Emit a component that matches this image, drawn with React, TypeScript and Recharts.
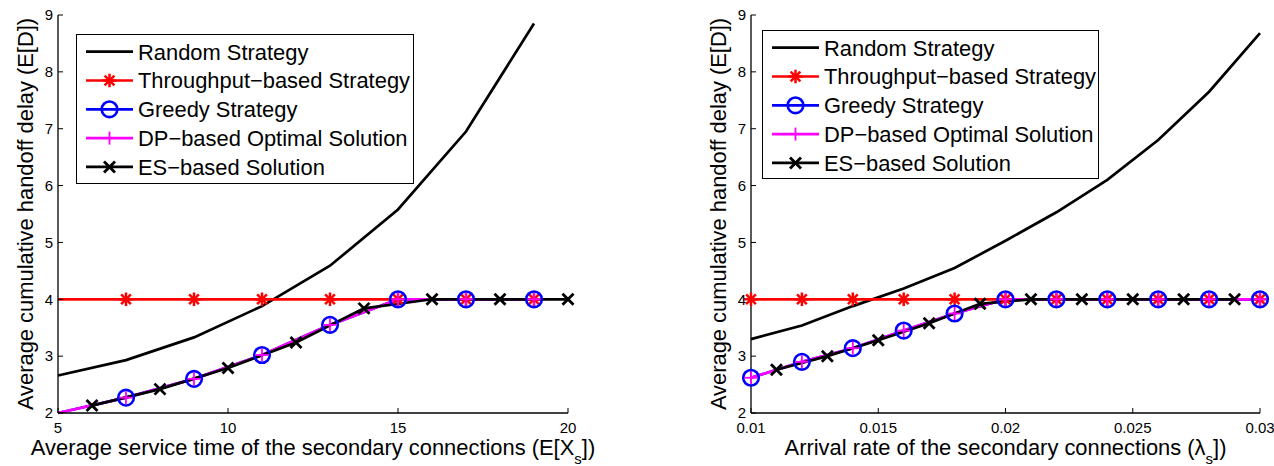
import React from "react";
import { LineChart, Line, XAxis, YAxis, Legend, Label } from "recharts";

// left panel: service time E[X_s]
const serviceTimes = [5, 7, 9, 11, 13, 15, 17, 19];
const serviceEsTimes = [6, 8, 10, 12, 14, 16, 18, 20];
const serviceRandom = [2.66, 2.93, 3.33, 3.88, 4.59, 5.58, 6.95, 8.85];
const serviceThroughput = [4, 4, 4, 4, 4, 4, 4, 4];
const serviceGreedy = [2.0, 2.27, 2.6, 3.02, 3.55, 4.0, 4.0, 4.0];
const serviceDp = [2.0, 2.27, 2.6, 3.02, 3.55, 4.0, 4.0, 4.0];
const serviceEs = [2.13, 2.42, 2.79, 3.24, 3.84, 4.0, 4.0, 4.0];
const serviceTicks = [5, 10, 15, 20];

// right panel: arrival rate lambda_s
const arrivalRates = [0.01, 0.012, 0.014, 0.016, 0.018, 0.02, 0.022, 0.024, 0.026, 0.028, 0.03];
const arrivalEsRates = [0.011, 0.013, 0.015, 0.017, 0.019, 0.021, 0.023, 0.025, 0.027, 0.029];
const arrivalRandom = [3.3, 3.54, 3.88, 4.19, 4.55, 5.03, 5.53, 6.1, 6.8, 7.65, 8.68];
const arrivalThroughput = [4, 4, 4, 4, 4, 4, 4, 4, 4, 4, 4];
const arrivalGreedy = [2.62, 2.9, 3.14, 3.45, 3.75, 4.0, 4.0, 4.0, 4.0, 4.0, 4.0];
const arrivalDp = [2.62, 2.9, 3.14, 3.45, 3.75, 4.0, 4.0, 4.0, 4.0, 4.0, 4.0];
const arrivalEs = [2.76, 3.0, 3.28, 3.58, 3.92, 4.0, 4.0, 4.0, 4.0, 4.0];
const arrivalTicks = [0.01, 0.015, 0.02, 0.025, 0.03];

const delayTicks = [2, 3, 4, 5, 6, 7, 8, 9];
const seriesNames = [
  "Random Strategy",
  "Throughput\u2212based Strategy",
  "Greedy Strategy",
  "DP\u2212based Optimal Solution",
  "ES\u2212based Solution",
];

const FONT = '"Liberation Sans", Arial, Helvetica, sans-serif';

type MarkerKind = "none" | "star" | "circle" | "plus" | "cross";

const seriesStyle: { color: string; marker: MarkerKind }[] = [
  { color: "#000000", marker: "none" },
  { color: "#ff0000", marker: "star" },
  { color: "#0000ff", marker: "circle" },
  { color: "#ff00ff", marker: "plus" },
  { color: "#000000", marker: "cross" },
];

function Marker({ kind, cx, cy, color }: { kind: MarkerKind; cx: number; cy: number; color: string }) {
  if (kind === "star") {
    const r = 6.8;
    const d = r * 0.72;
    return (
      <g stroke={color} strokeWidth={2.5}>
        <line x1={cx - r} y1={cy} x2={cx + r} y2={cy} />
        <line x1={cx} y1={cy - r} x2={cx} y2={cy + r} />
        <line x1={cx - d} y1={cy - d} x2={cx + d} y2={cy + d} />
        <line x1={cx - d} y1={cy + d} x2={cx + d} y2={cy - d} />
      </g>
    );
  }
  if (kind === "circle") {
    return <circle cx={cx} cy={cy} r={7.8} fill="none" stroke={color} strokeWidth={2.6} />;
  }
  if (kind === "plus") {
    const r = 6.5;
    return (
      <g stroke={color} strokeWidth={1.8}>
        <line x1={cx - r} y1={cy} x2={cx + r} y2={cy} />
        <line x1={cx} y1={cy - r} x2={cx} y2={cy + r} />
      </g>
    );
  }
  if (kind === "cross") {
    const r = 5.5;
    return (
      <g stroke={color} strokeWidth={2.8}>
        <line x1={cx - r} y1={cy - r} x2={cx + r} y2={cy + r} />
        <line x1={cx - r} y1={cy + r} x2={cx + r} y2={cy - r} />
      </g>
    );
  }
  return null;
}

function LegendBox({ width, height }: { width: number; height: number }) {
  return (
    <div
      style={{
        width,
        height,
        boxSizing: "border-box",
        border: "1.3px solid #000",
        background: "#fff",
      }}
    >
      <svg width={width - 2} height={height - 2} style={{ display: "block" }}>
        {seriesNames.map((name, i) => {
          const y = 16.7 + i * 28.8;
          const s = seriesStyle[i];
          return (
            <g key={name}>
              <line x1={9} y1={y} x2={56} y2={y} stroke={s.color} strokeWidth={2.7} />
              <Marker kind={s.marker} cx={32.5} cy={y} color={s.color} />
              <text x={61} y={y} dy="0.36em" fontSize={21.9} fontFamily={FONT} fill="#000">
                {name}
              </text>
            </g>
          );
        })}
      </svg>
    </div>
  );
}

interface Series {
  xs: number[];
  ys: number[];
  skip: number;
}

interface PanelProps {
  left: number;
  width: number;
  yAxisWidth: number;
  marginRight: number;
  domain: [number, number];
  ticks: number[];
  series: Series[];
  labelMain: string;
  labelSub: string;
  legendPos: { left: number; top: number; width: number; height: number };
}

function Panel(p: PanelProps) {
  const axisTick = { fontSize: 15, fontFamily: FONT, fill: "#000" };
  return (
    <div style={{ position: "absolute", left: p.left, top: 0 }}>
      <LineChart
        width={p.width}
        height={466}
        margin={{ top: 15, right: p.marginRight, bottom: 0, left: 0 }}
      >
        <XAxis
          type="number"
          dataKey="x"
          domain={p.domain}
          ticks={p.ticks}
          height={53}
          tick={axisTick}
          tickSize={-5}
          tickMargin={14}
          stroke="#000"
          axisLine={{ stroke: "#000", strokeWidth: 1.3 }}
          tickLine={{ stroke: "#000" }}
          interval={0}
        >
          <Label
            content={(props: any) => {
              const vb = props.viewBox;
              const cx = vb.x + vb.width / 2;
              return (
                <text x={cx} y={vb.y + 42} textAnchor="middle" fontSize={21.9} fontFamily={FONT} fill="#000">
                  {p.labelMain}
                  <tspan fontSize={15} dy={9}>
                    {p.labelSub}
                  </tspan>
                  <tspan dy={-9}>])</tspan>
                </text>
              );
            }}
          />
        </XAxis>
        <XAxis
          xAxisId="top"
          orientation="top"
          type="number"
          domain={p.domain}
          ticks={p.ticks}
          height={0}
          tick={false}
          tickSize={-5}
          axisLine={{ stroke: "#000", strokeWidth: 1.3 }}
          tickLine={{ stroke: "#000" }}
          allowDataOverflow
        />
        <YAxis
          type="number"
          domain={[2, 9]}
          ticks={delayTicks}
          width={p.yAxisWidth}
          tick={axisTick}
          tickSize={-5}
          tickMargin={10}
          axisLine={{ stroke: "#000", strokeWidth: 1.3 }}
          tickLine={{ stroke: "#000" }}
          interval={0}
        >
          <Label
            content={(props: any) => {
              const vb = props.viewBox;
              const x = vb.x + vb.width - 25;
              const y = vb.y + vb.height / 2;
              return (
                <text
                  x={x}
                  y={y}
                  transform={`rotate(-90, ${x}, ${y})`}
                  textAnchor="middle"
                  fontSize={21.9}
                  fontFamily={FONT}
                  fill="#000"
                >
                  Average cumulative handoff delay (E[D])
                </text>
              );
            }}
          />
        </YAxis>
        <YAxis
          yAxisId="right"
          orientation="right"
          type="number"
          domain={[2, 9]}
          ticks={delayTicks}
          width={0}
          tick={false}
          tickSize={-5}
          axisLine={{ stroke: "#000", strokeWidth: 1.3 }}
          tickLine={{ stroke: "#000" }}
          allowDataOverflow
        />
        {p.series.map((s, i) => {
          const st = seriesStyle[i];
          const data = s.xs.map((x, k) => ({ x, y: s.ys[k] }));
          return (
            <Line
              key={seriesNames[i]}
              data={data}
              dataKey="y"
              name={seriesNames[i]}
              type="linear"
              stroke={st.color}
              strokeWidth={2.7}
              isAnimationActive={false}
              activeDot={false}
              dot={(dp: any) =>
                st.marker !== "none" && dp.index >= s.skip ? (
                  <Marker key={`m-${i}-${dp.index}`} kind={st.marker} cx={dp.cx} cy={dp.cy} color={st.color} />
                ) : (
                  <g key={`m-${i}-${dp.index}`} />
                )
              }
            />
          );
        })}
        <Legend
          layout="vertical"
          align="center"
          verticalAlign="middle"
          wrapperStyle={{
            left: p.legendPos.left,
            top: p.legendPos.top,
            width: p.legendPos.width,
            height: p.legendPos.height,
          }}
          content={() => <LegendBox width={p.legendPos.width} height={p.legendPos.height} />}
        />
      </LineChart>
    </div>
  );
}

export default function App() {
  return (
    <div style={{ position: "absolute", left: 0, top: 0, width: 1274, height: 466, background: "#fff" }}>
      <Panel
        left={0}
        width={637}
        yAxisWidth={58}
        marginRight={69}
        domain={[5, 20]}
        ticks={serviceTicks}
        series={[
          { xs: serviceTimes, ys: serviceRandom, skip: 1 },
          { xs: serviceTimes, ys: serviceThroughput, skip: 1 },
          { xs: serviceTimes, ys: serviceGreedy, skip: 1 },
          { xs: serviceTimes, ys: serviceDp, skip: 1 },
          { xs: serviceEsTimes, ys: serviceEs, skip: 0 },
        ]}
        labelMain="Average service time of the secondary connections (E[X"
        labelSub="s"
        legendPos={{ left: 76, top: 34, width: 338, height: 150 }}
      />
      <Panel
        left={637}
        width={637}
        yAxisWidth={114}
        marginRight={14}
        domain={[0.01, 0.03]}
        ticks={arrivalTicks}
        series={[
          { xs: arrivalRates, ys: arrivalRandom, skip: 0 },
          { xs: arrivalRates, ys: arrivalThroughput, skip: 0 },
          { xs: arrivalRates, ys: arrivalGreedy, skip: 0 },
          { xs: arrivalRates, ys: arrivalDp, skip: 0 },
          { xs: arrivalEsRates, ys: arrivalEs, skip: 0 },
        ]}
        labelMain={"Arrival rate of the secondary connections (\u03bb"}
        labelSub="s"
        legendPos={{ left: 125, top: 30, width: 337, height: 149 }}
      />
    </div>
  );
}
